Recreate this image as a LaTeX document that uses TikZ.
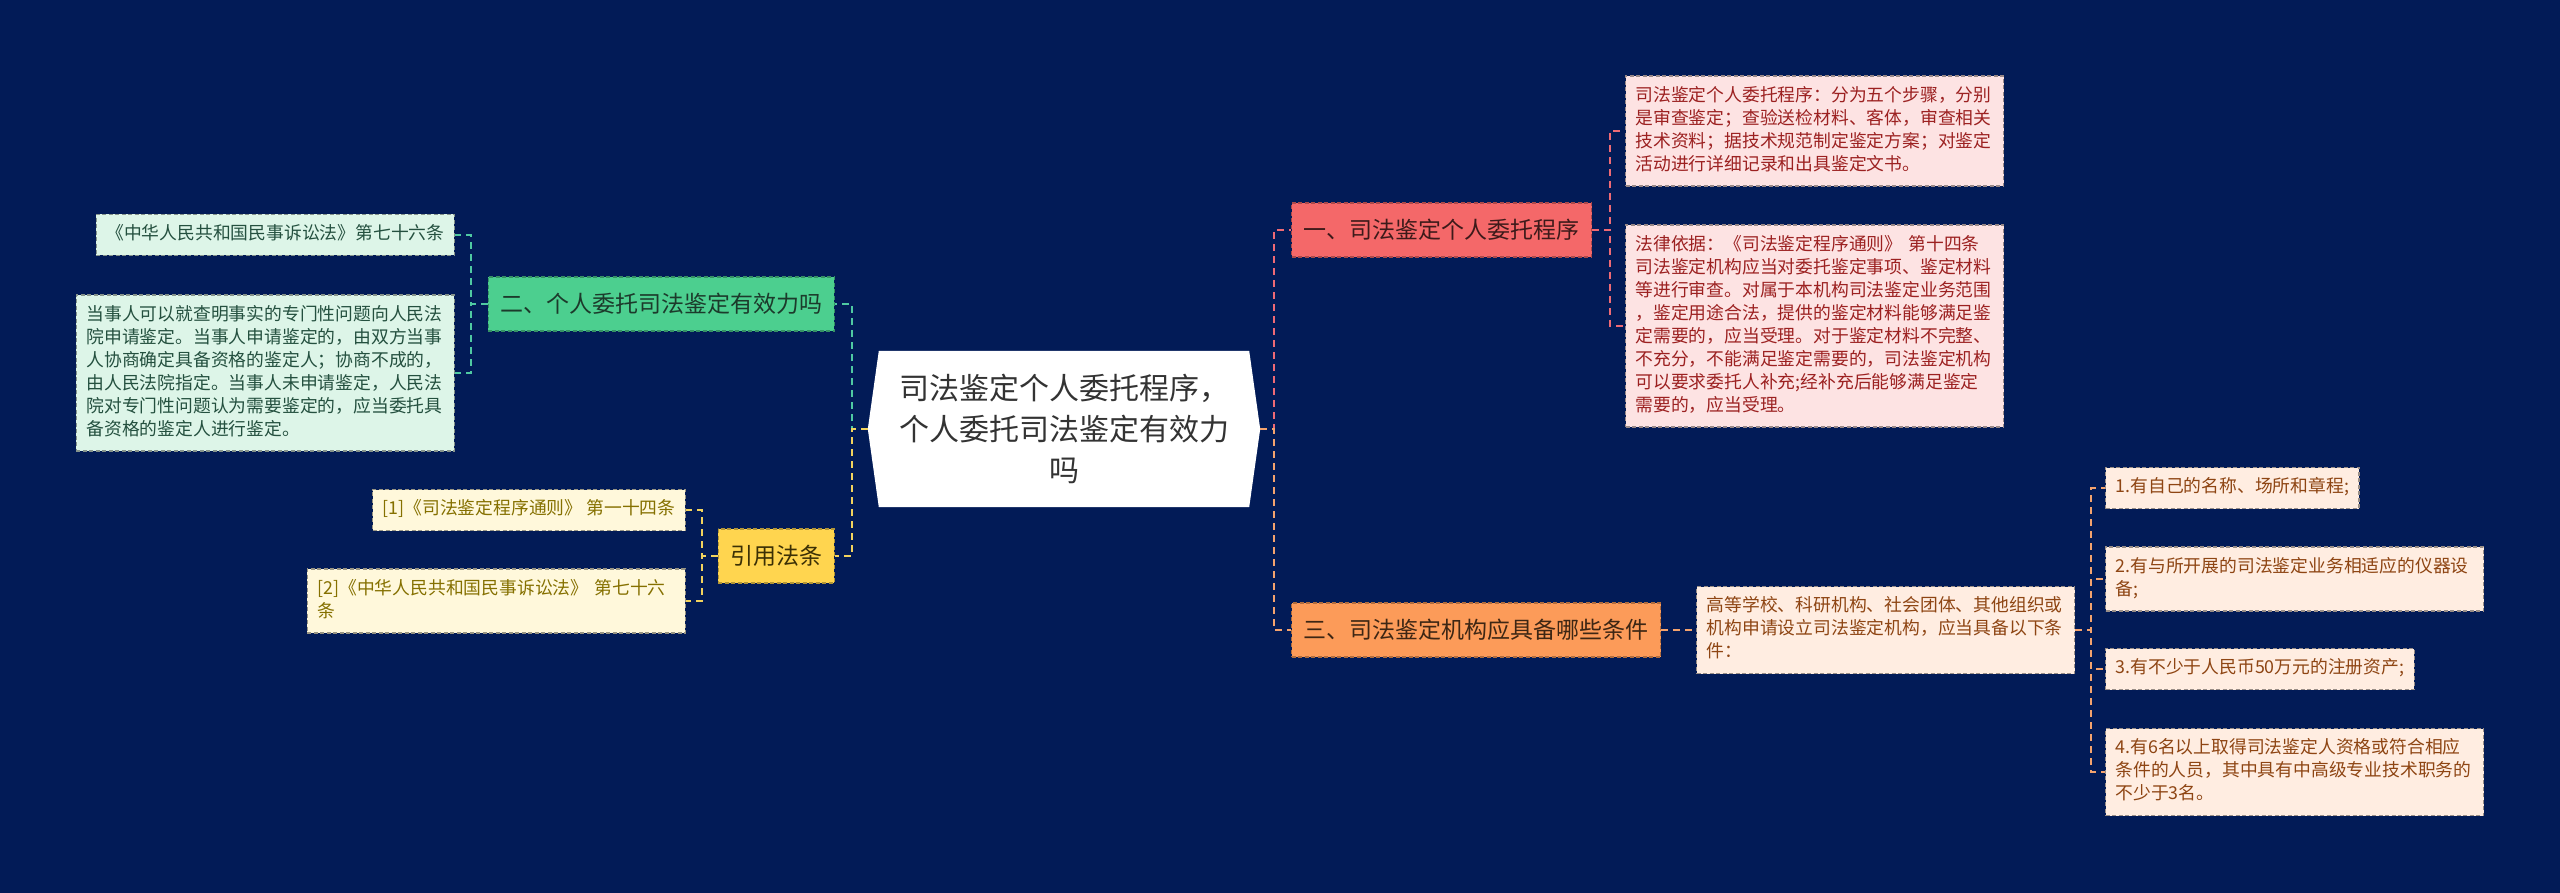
\documentclass[tikz,border=0pt]{standalone}
\usepackage{fontspec}
\setmainfont{Noto Sans CJK SC}
\usepackage{tikz}
\usetikzlibrary{
    positioning,
    backgrounds
}

\definecolor{navybg}{HTML}{021B57}
\definecolor{rootink}{HTML}{333333}
\definecolor{redfill}{HTML}{F46869}
\definecolor{redink}{HTML}{3D1A1A}
\definecolor{redline}{HTML}{EE6A75}
\definecolor{pinkfill}{HTML}{FDE3E3}
\definecolor{pinkink}{HTML}{9C2121}
\definecolor{orangefill}{HTML}{FC9B59}
\definecolor{orangeink}{HTML}{3D2614}
\definecolor{orangeline}{HTML}{F4A36E}
\definecolor{peachfill}{HTML}{FFEDE1}
\definecolor{peachink}{HTML}{8E4513}
\definecolor{greenfill}{HTML}{4CCF8F}
\definecolor{greenink}{HTML}{1C3A2B}
\definecolor{greenline}{HTML}{4FC9A2}
\definecolor{mintfill}{HTML}{DDF5E8}
\definecolor{mintink}{HTML}{24503F}
\definecolor{yellowfill}{HTML}{FFD54F}
\definecolor{yellowink}{HTML}{3B3005}
\definecolor{yellowline}{HTML}{F2D35E}
\definecolor{creamfill}{HTML}{FFF8DB}
\definecolor{creamink}{HTML}{857000}

\begin{document}
\begin{tikzpicture}[
  x = 1pt, y = -1pt,
  rootnode/.style = {rectangle, inner sep=0pt, align=center, text=rootink,
                     font=\fontsize{30}{41}\selectfont,
                     minimum width=392pt, minimum height=156pt},
  branch/.style   = {rectangle, draw, dash pattern=on 4pt off 2.5pt, line width=1.1pt,
                     inner xsep=12pt, inner ysep=0pt, minimum height=54pt,
                     font=\fontsize{23}{28}\selectfont},
  leaf/.style     = {rectangle, draw, dash pattern=on 4pt off 2.5pt, line width=1.1pt,
                     align=left, inner xsep=10pt, inner ysep=9pt,
                     font=\fontsize{17.8}{23}\selectfont,
                     execute at begin node=\strut, execute at end node=\strut},
  wide/.style     = {text width=358pt},
  edge/.style     = {line width=2pt, dash pattern=on 7pt off 5pt},
  redbranch/.style    = {branch, fill=redfill, draw=redfill!70!black, text=redink},
  orangebranch/.style = {branch, fill=orangefill, draw=orangefill!70!black, text=orangeink},
  greenbranch/.style  = {branch, fill=greenfill, draw=greenfill!70!black, text=greenink},
  yellowbranch/.style = {branch, fill=yellowfill, draw=yellowfill!70!black, text=yellowink},
  pinkleaf/.style  = {leaf, fill=pinkfill, draw=pinkfill!60!black, text=pinkink},
  peachleaf/.style = {leaf, fill=peachfill, draw=peachfill!60!black, text=peachink},
  mintleaf/.style  = {leaf, fill=mintfill, draw=mintfill!60!black, text=mintink},
  creamleaf/.style = {leaf, fill=creamfill, draw=creamfill!60!black, text=creamink}
]
\useasboundingbox (0,0) rectangle (2560,893);

% Nodes
\node[rootnode] (root) at (1064,429) {司法鉴定个人委托程序，\\个人委托司法鉴定有效力\\吗};

\node[redbranch, anchor=west] (procedure) at (1291,230) {一、司法鉴定个人委托程序};
\node[pinkleaf, wide, anchor=west] (steps) at (1625,131)
  {司法鉴定个人委托程序：分为五个步骤，分别\\是审查鉴定；查验送检材料、客体，审查相关\\技术资料；据技术规范制定鉴定方案；对鉴定\\活动进行详细记录和出具鉴定文书。};
\node[pinkleaf, wide, anchor=west] (basis) at (1625,326)
  {法律依据：《司法鉴定程序通则》 第十四条\\司法鉴定机构应当对委托鉴定事项、鉴定材料\\等进行审查。对属于本机构司法鉴定业务范围\\，鉴定用途合法，提供的鉴定材料能够满足鉴\\定需要的，应当受理。对于鉴定材料不完整、\\不充分，不能满足鉴定需要的，司法鉴定机构\\可以要求委托人补充;经补充后能够满足鉴定\\需要的，应当受理。};

\node[orangebranch, anchor=west] (conditions) at (1291,630) {三、司法鉴定机构应具备哪些条件};
\node[peachleaf, wide, right=35pt of conditions] (applicant)
  {高等学校、科研机构、社会团体、其他组织或\\机构申请设立司法鉴定机构，应当具备以下条\\件：};
\node[peachleaf, anchor=west] (name) at (2105,488) {1.有自己的名称、场所和章程;};
\node[peachleaf, wide, anchor=west] (equipment) at (2105,579)
  {2.有与所开展的司法鉴定业务相适应的仪器设\\备;};
\node[peachleaf, anchor=west] (capital) at (2105,669) {3.有不少于人民币50万元的注册资产;};
\node[peachleaf, wide, anchor=west] (staff) at (2105,772)
  {4.有6名以上取得司法鉴定人资格或符合相应\\条件的人员，其中具有中高级专业技术职务的\\不少于3名。};

\node[greenbranch, anchor=east] (validity) at (835,304) {二、个人委托司法鉴定有效力吗};
\node[mintleaf, anchor=east] (article) at (455,235) {《中华人民共和国民事诉讼法》第七十六条};
\node[mintleaf, wide, anchor=east] (expert) at (455,373)
  {当事人可以就查明事实的专门性问题向人民法\\院申请鉴定。当事人申请鉴定的，由双方当事\\人协商确定具备资格的鉴定人；协商不成的，\\由人民法院指定。当事人未申请鉴定，人民法\\院对专门性问题认为需要鉴定的，应当委托具\\备资格的鉴定人进行鉴定。};

\node[yellowbranch, anchor=east] (citations) at (835,556) {引用法条};
\node[creamleaf, anchor=east] (cite1) at (686,510) {[1]《司法鉴定程序通则》 第一十四条};
\node[creamleaf, wide, anchor=east] (cite2) at (686,601) {[2]《中华人民共和国民事诉讼法》 第七十六\\条};

% Background and root shape
\begin{scope}[on background layer]
  \fill[navybg] (0,0) rectangle (2560,893);
  \fill[white] (root.west) -- ([xshift=11pt]root.north west) -- ([xshift=-11pt]root.north east)
    -- (root.east) -- ([xshift=-11pt]root.south east) -- ([xshift=11pt]root.south west) -- cycle;
\end{scope}

% Right side connectors
\draw[edge, redline] (root.east) -- ++(14,0) |- (procedure.west);
\draw[edge, orangeline] (root.east) -- ++(14,0) |- (conditions.west);
\draw[edge, redline] (procedure.east) -- ++(18,0) |- (steps.west);
\draw[edge, redline] (procedure.east) -- ++(18,0) |- (basis.west);
\draw[edge, orangeline] (conditions.east) -- (applicant.west);
\draw[edge, orangeline] (applicant.east) -- ++(16,0) |- (name.west);
\draw[edge, orangeline] (applicant.east) -- ++(16,0) |- (equipment.west);
\draw[edge, orangeline] (applicant.east) -- ++(16,0) |- (capital.west);
\draw[edge, orangeline] (applicant.east) -- ++(16,0) |- (staff.west);

% Left side connectors
\draw[edge, greenline] (root.west) -- ++(-16,0) |- (validity.east);
\draw[edge, yellowline] (root.west) -- ++(-16,0) |- (citations.east);
\draw[edge, greenline] (validity.west) -- ++(-17,0) |- (article.east);
\draw[edge, greenline] (validity.west) -- ++(-17,0) |- (expert.east);
\draw[edge, yellowline] (citations.west) -- ++(-16,0) |- (cite1.east);
\draw[edge, yellowline] (citations.west) -- ++(-16,0) |- (cite2.east);

\end{tikzpicture}
\end{document}
